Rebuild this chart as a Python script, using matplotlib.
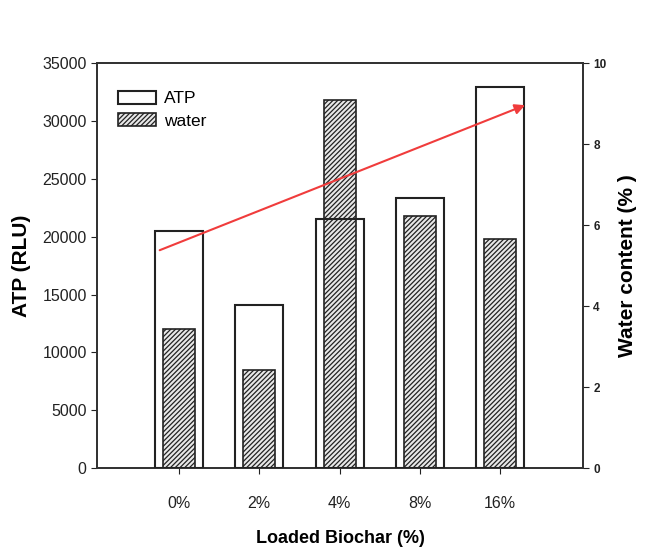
import matplotlib
matplotlib.use("Agg")
import matplotlib.pyplot as plt
import numpy as np

plt.rcParams['font.family'] = ['Liberation Sans', 'DejaVu Sans']
plt.rcParams['hatch.linewidth'] = 0.9
plt.rcParams['hatch.color'] = '#333333'

# data
loadings = ['0%', '2%', '4%', '8%', '16%']
atp = [20500, 14100, 21500, 23300, 32900]
water = [3.43, 2.42, 9.08, 6.22, 5.65]
trend_x = [-0.24, 4.31]
trend_y = [5.38, 8.96]  # on water axis

x = np.arange(len(loadings))

fig = plt.figure(figsize=(6.47, 5.58), dpi=100)
ax = fig.add_axes([0.150, 0.161, 0.751, 0.726])
ax2 = ax.twinx()

# water bars underneath, ATP outlines drawn on top
wb = ax2.bar(x, water, width=0.4, facecolor='#e8e8e8', edgecolor='#222222',
             hatch='///////', lw=1.2, zorder=2)
ab = ax.bar(x, atp, width=0.6, facecolor='none', edgecolor='#222222', lw=1.5, zorder=3)
ax.set_zorder(ax2.get_zorder() + 1)
ax.patch.set_visible(False)

ax.set_xlim(-1.02, 5.03)
ax.set_ylim(0, 35000)
ax.set_yticks(np.arange(0, 35001, 5000))
ax2.set_ylim(0, 10)
ax2.set_yticks(np.arange(0, 11, 2))

ax.set_xticks(x)
ax.set_xticklabels(loadings)
ax.tick_params(axis='x', direction='out', length=4, pad=16, labelsize=11.5, colors='#222222')
ax.tick_params(axis='y', direction='out', length=4, labelsize=11.5, colors='#222222')
ax2.tick_params(axis='y', direction='out', length=4, labelsize=8.5, colors='#222222')
for t in ax2.get_yticklabels():
    t.set_fontweight('bold')

for a in (ax, ax2):
    for s in a.spines.values():
        s.set_linewidth(1.3)
        s.set_color('#333333')

ax.set_ylabel('ATP (RLU)', fontsize=15, fontweight='bold', labelpad=8)
ax2.set_ylabel('Water content (% )', fontsize=15, fontweight='bold', labelpad=8)
ax.set_xlabel('Loaded Biochar (%)', fontsize=13, fontweight='bold', labelpad=14)

# red trend arrow (water axis coordinates)
ax.annotate('', xy=(trend_x[1], trend_y[1]), xytext=(trend_x[0], trend_y[0]),
            xycoords=ax2.transData, textcoords=ax2.transData,
            arrowprops=dict(arrowstyle='-|>', color='#f03c3c', lw=1.5,
                            mutation_scale=15, shrinkA=0, shrinkB=0), zorder=5)

leg = ax.legend([ab, wb], ['ATP', 'water'], loc='upper left', frameon=False,
                fontsize=12.5, handlelength=2.2, handleheight=0.75,
                bbox_to_anchor=(0.01, 0.97), labelspacing=0.4, handletextpad=0.5)

fig.savefig('out.png', dpi=100)
